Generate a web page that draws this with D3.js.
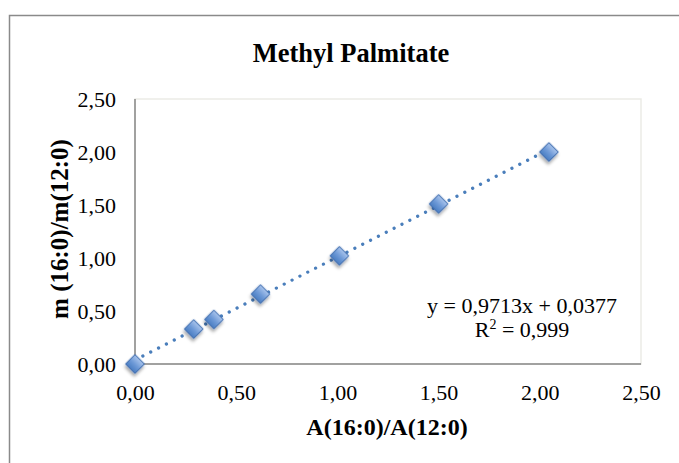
<!DOCTYPE html>
<html>
<head>
<meta charset="utf-8">
<script src="https://cdn.jsdelivr.net/npm/d3@7"></script>
<style>
  html, body { margin: 0; padding: 0; background: #fff; }
  svg { display: block; font-family: "Liberation Serif", "Times New Roman", serif; }
</style>
</head>
<body>
<svg id="chart" width="679" height="463"></svg>
<script>
// values
const ratioArea = [0, 0.29, 0.39, 0.62, 1.01, 1.50, 2.045];   // A(16:0)/A(12:0)
const ratioMass = [0, 0.33, 0.42, 0.66, 1.02, 1.51, 2.00];    // m(16:0)/m(12:0)
const xTicks = [0, 0.5, 1, 1.5, 2, 2.5];
const yTicks = [0, 0.5, 1, 1.5, 2, 2.5];
const slope = 0.9713;
const intercept = 0.0377;
const rSquared = 0.999;

const svg = d3.select('#chart');
const comma = d => d3.format('.2f')(d).replace('.', ',');

let plot = {left: 135, right: 641, top: 99, bottom: 364};

let x = d3.scaleLinear().domain([0, 2.5]).range([plot.left, plot.right]);
let y = d3.scaleLinear().domain([0, 2.5]).range([plot.bottom, plot.top]);

// outer chart frame (runs off the right and bottom edges)
svg.append('rect')
	.attr('x', 9.5).attr('y', 15.5)
	.attr('width', 720).attr('height', 500)
	.attr('fill', 'none')
	.attr('stroke', '#8a8a8a')
	.attr('stroke-width', 1.5);

// plot area border
svg.append('rect')
	.attr('x', plot.left).attr('y', plot.top)
	.attr('width', plot.right - plot.left).attr('height', plot.bottom - plot.top)
	.attr('fill', '#fff')
	.attr('stroke', '#ebebe6')
	.attr('stroke-width', 1.5);

// axes
let xAxis = svg.append('g')
	.attr('transform', `translate(0,${plot.bottom})`)
	.call(d3.axisBottom(x).tickValues(xTicks).tickFormat(comma).tickSize(0).tickPadding(20));
let yAxis = svg.append('g')
	.attr('transform', `translate(${plot.left},0)`)
	.call(d3.axisLeft(y).tickValues(yTicks).tickFormat(comma).tickSize(0).tickPadding(19));

[xAxis, yAxis].forEach(function(g) {
	g.select('.domain').attr('stroke', '#878787').attr('stroke-width', 1.5);
	g.selectAll('text')
		.attr('font-family', '"Liberation Serif", serif')
		.attr('font-size', 22)
		.attr('fill', '#000');
});
// only the left and bottom lines of the domain path
xAxis.select('.domain').attr('d', `M${plot.left},0H${plot.right}`);
yAxis.select('.domain').attr('d', `M0,${plot.bottom}V${plot.top}`);

// titles
svg.append('text')
	.attr('x', 351).attr('y', 62)
	.attr('text-anchor', 'middle')
	.attr('font-size', 26.5)
	.attr('font-weight', 'bold')
	.text('Methyl Palmitate');

svg.append('text')
	.attr('x', 387).attr('y', 435)
	.attr('text-anchor', 'middle')
	.attr('font-size', 24)
	.attr('font-weight', 'bold')
	.text('A(16:0)/A(12:0)');

svg.append('text')
	.attr('transform', 'translate(68,229) rotate(-90)')
	.attr('text-anchor', 'middle')
	.attr('font-size', 25)
	.attr('font-weight', 'bold')
	.text('m (16:0)/m(12:0)');

// defs: marker gradient and shadow
let defs = svg.append('defs');
let grad = defs.append('linearGradient')
	.attr('id', 'mk')
	.attr('x1', '0').attr('y1', '0').attr('x2', '0').attr('y2', '1');
grad.append('stop').attr('offset', '0%').attr('stop-color', '#a9c4ec');
grad.append('stop').attr('offset', '55%').attr('stop-color', '#6c98d6');
grad.append('stop').attr('offset', '100%').attr('stop-color', '#4a7dc2');

let shadow = defs.append('filter')
	.attr('id', 'shadow')
	.attr('x', '-50%').attr('y', '-50%').attr('width', '200%').attr('height', '200%');
shadow.append('feDropShadow')
	.attr('dx', 1.5).attr('dy', 2.5)
	.attr('stdDeviation', 1.8)
	.attr('flood-color', '#000')
	.attr('flood-opacity', 0.35);

// linear trendline over the data range
let xMax = d3.max(ratioArea);
svg.append('line')
	.attr('x1', x(0)).attr('y1', y(intercept))
	.attr('x2', x(xMax)).attr('y2', y(slope * xMax + intercept))
	.attr('stroke', '#4a7ebb')
	.attr('stroke-width', 3.3)
	.attr('stroke-linecap', 'round')
	.attr('stroke-dasharray', '0.01 8.8');

// markers
let diamond = d3.symbol().type(d3.symbolSquare).size(178);
svg.append('g')
	.selectAll('path')
	.data(d3.zip(ratioArea, ratioMass))
	.join('path')
	.attr('d', diamond)
	.attr('transform', d => `translate(${x(d[0])},${y(d[1])}) rotate(45)`)
	.attr('fill', 'url(#mk)')
	.attr('stroke', '#3d6db0')
	.attr('stroke-width', 1)
	.attr('filter', 'url(#shadow)');

// equation label
let eq = svg.append('text')
	.attr('text-anchor', 'middle')
	.attr('font-size', 22);
eq.append('tspan')
	.attr('x', 522).attr('y', 313)
	.text(`y = ${String(slope).replace('.', ',')}x + ${String(intercept).replace('.', ',')}`);
let r2 = eq.append('tspan')
	.attr('x', 522).attr('y', 337);
r2.append('tspan').text('R');
r2.append('tspan').attr('dy', -8).attr('font-size', 14).text('2');
r2.append('tspan').attr('dy', 8).text(` = ${String(rSquared).replace('.', ',')}`);
</script>
</body>
</html>
